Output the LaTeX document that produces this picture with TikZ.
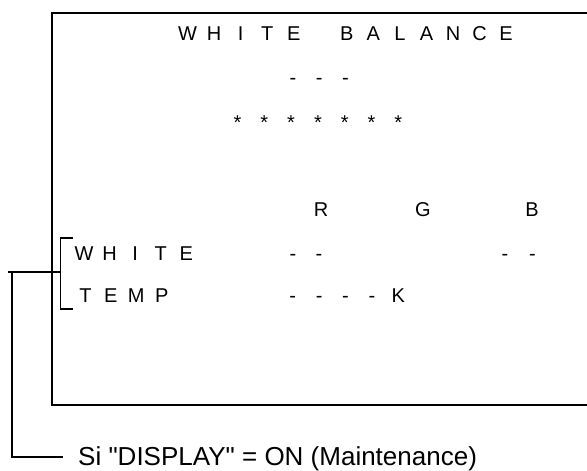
\documentclass[tikz,border=0pt]{standalone}
\usepackage{fontspec}
\setmainfont{Liberation Sans}
\usetikzlibrary{positioning}

\begin{document}
\begin{tikzpicture}
  [x=1pt,y=-1pt,
   osd/.style={inner sep=0pt,anchor=base,font=\fontsize{20}{20}\selectfont},
   note/.style={inner sep=0pt,anchor=base west,font=\fontsize{26}{26}\selectfont},
   frame/.style={line width=1.8pt},
   link/.style={line width=1.6pt}]

  \useasboundingbox (0,0) rectangle (587,471);

  % screen frame, its right side runs off the page
  \coordinate (frame tr) at (587,13);
  \coordinate (frame tl) at (52,13);
  \coordinate (frame bl) at (52,405);
  \coordinate (frame br) at (587,405);
  \draw[frame] (frame tr) -- (frame tl) -- (frame bl) -- (frame br);

  % screen text
  \foreach \c/\ch in {0/W,1/H,2/I,3/T,4/E,6/B,7/A,8/L,9/A,10/N,11/C,12/E}
    \node[osd] (title \c) at (187.5+26.55*\c,40) {\ch};

  \foreach \c in {0,1,2}
    \node[osd] (code \c) at (293+26.25*\c,84.5) {-};

  \foreach \c in {0,...,6}
    \node[osd] (star \c) at (237.5+26.8*\c,129) {*};

  \node[osd] (R) at (321,216.5) {R};
  \node[osd] (G) at (423,216.5) {G};
  \node[osd] (B) at (532,216.5) {B};

  \foreach \c/\ch in {0/W,1/H,2/I,3/T,4/E}
    \node[osd] (white \c) at (84+25.6*\c,260) {\ch};
  \foreach \c/\x in {0/293,1/319,2/505,3/532.5}
    \node[osd] (wval \c) at (\x,260) {-};

  \foreach \c/\ch in {0/T,1/E,2/M,3/P}
    \node[osd] (temp \c) at (85.5+25.4*\c,302.5) {\ch};
  \foreach \c/\ch in {0/-,1/-,2/-,3/-,4/K}
    \node[osd] (tval \c) at (292.7+26.4*\c,302.5) {\ch};

  % bracket and lead to the note
  \coordinate (brk top) at (73,238);
  \coordinate (brk tc) at (60.5,238);
  \coordinate (brk bc) at (60.5,309);
  \coordinate (brk bot) at (73,309);
  \coordinate (brk mid) at (60.5,272);
  \coordinate (lead start) at (8,272);
  \coordinate (lead top) at (12,272);
  \coordinate (lead end) at (63,457);

  \draw[link] (brk top) -- (brk tc) -- (brk bc) -- (brk bot);
  \draw[link] (lead start) -- (brk mid);
  \draw[link] (lead top) |- (lead end);

  \node[note] (note) at (78,465.5)
    {Si \textquotedbl DISPLAY\textquotedbl{} = ON (Maintenance)};

\end{tikzpicture}
\end{document}
